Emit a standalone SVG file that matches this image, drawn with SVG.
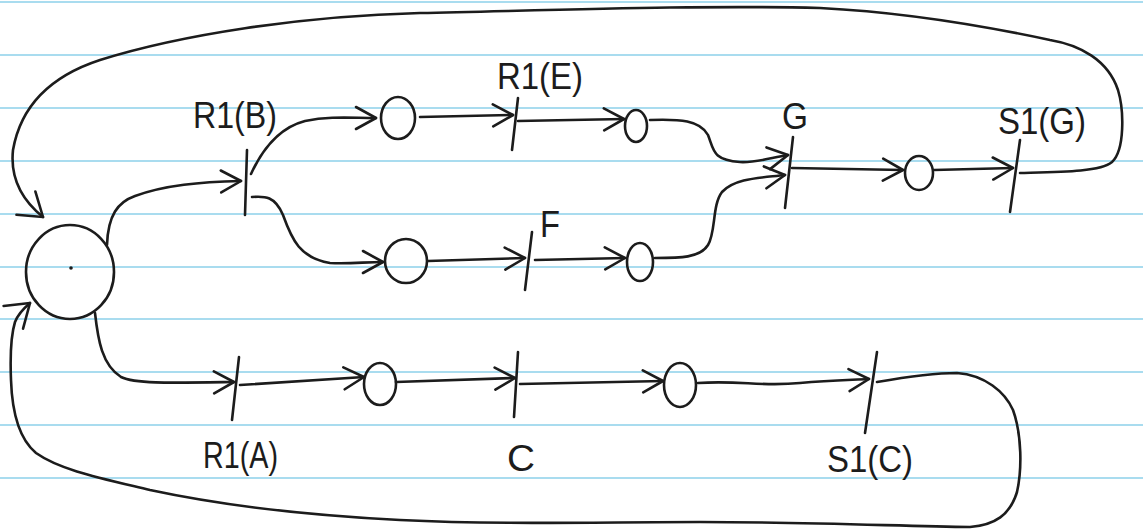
<svg xmlns="http://www.w3.org/2000/svg" width="1143" height="529" viewBox="0 0 1143 529">
<defs>
<style>
.ruled{stroke:#a9dcef;stroke-width:2}
.conn{fill:none;stroke:#1c1c1c;stroke-width:2.6;stroke-linecap:round;stroke-linejoin:round}
.place{fill:none;stroke:#1c1c1c;stroke-width:2.6}
.trans{stroke:#1c1c1c;stroke-width:2.6;stroke-linecap:round}
.lbl{font-family:"Liberation Sans","DejaVu Sans",sans-serif;font-size:37px;fill:#1c1c1c}
</style>
<marker id="arr" markerUnits="userSpaceOnUse" viewBox="0 0 24 26" markerWidth="24" markerHeight="26" refX="22" refY="13" orient="auto">
<path d="M2,2 L22,13 L2,24" fill="none" stroke="#1c1c1c" stroke-width="2.6" stroke-linecap="round" stroke-linejoin="round"/>
</marker>
<marker id="arrL" markerUnits="userSpaceOnUse" viewBox="0 0 26 34" markerWidth="26" markerHeight="34" refX="24" refY="17" orient="auto">
<path d="M2,2 L24,17 L2,32" fill="none" stroke="#1c1c1c" stroke-width="2.6" stroke-linecap="round" stroke-linejoin="round"/>
</marker>
</defs>
<rect x="0" y="0" width="1143" height="529" fill="#ffffff"/>
<g id="paper">
<line class="ruled" x1="0" y1="2" x2="1143" y2="2"/>
<line class="ruled" x1="0" y1="55" x2="1143" y2="55"/>
<line class="ruled" x1="0" y1="108" x2="1143" y2="108"/>
<line class="ruled" x1="0" y1="161" x2="1143" y2="161"/>
<line class="ruled" x1="0" y1="214" x2="1143" y2="214"/>
<line class="ruled" x1="0" y1="267" x2="1143" y2="267"/>
<line class="ruled" x1="0" y1="319" x2="1143" y2="319"/>
<line class="ruled" x1="0" y1="372" x2="1143" y2="372"/>
<line class="ruled" x1="0" y1="425" x2="1143" y2="425"/>
<line class="ruled" x1="0" y1="478" x2="1143" y2="478"/>
</g>
<g id="connectors">
<path class="conn" marker-end="url(#arr)" d="M107,245 C108,215 118,202 135,196 C165,185 200,182 241,181"/>
<path class="conn" marker-end="url(#arr)" d="M251,174 C262,150 278,128 305,121 C330,116 350,118 376,118"/>
<path class="conn" marker-end="url(#arr)" d="M420,117 L513,115"/>
<path class="conn" marker-end="url(#arr)" d="M518,121 L624,119"/>
<path class="conn" marker-end="url(#arr)" d="M650,120 C680,119 700,120 708,135 C714,150 712,160 740,162 C755,163 770,158 788,155"/>
<path class="conn" marker-end="url(#arr)" d="M252,197 C265,196 275,196 283,215 C292,240 300,258 330,263 C350,264 365,262 383,262"/>
<path class="conn" marker-end="url(#arr)" d="M428,261 L525,258"/>
<path class="conn" marker-end="url(#arr)" d="M535,260 L625,258"/>
<path class="conn" marker-end="url(#arr)" d="M655,258 C680,258 700,258 708,245 C716,232 712,205 722,192 C735,178 760,178 785,175"/>
<path class="conn" marker-end="url(#arr)" d="M792,168 L903,170"/>
<path class="conn" marker-end="url(#arr)" d="M934,170 L1013,168"/>
<path class="conn" marker-end="url(#arrL)" d="M1020,173 C1060,172 1100,172 1112,162 C1125,150 1124,110 1118,90 C1108,60 1080,45 1050,40 C980,25 900,12 820,8 C700,5 560,10 420,13 C300,16 180,35 100,60 C45,78 20,110 13,150 C10,178 22,200 43,217"/>
<path class="conn" marker-end="url(#arr)" d="M95,313 C98,340 102,365 121,377 C135,384 170,383 234,382"/>
<path class="conn" marker-end="url(#arr)" d="M240,385 L364,377"/>
<path class="conn" marker-end="url(#arr)" d="M396,382 L515,378"/>
<path class="conn" marker-end="url(#arr)" d="M520,384 L663,381"/>
<path class="conn" marker-end="url(#arr)" d="M698,383 C740,380 760,387 800,383 C830,380 850,380 869,379"/>
<path class="conn" marker-end="url(#arrL)" d="M877,382 C900,378 930,373 957,373 C985,375 1005,392 1013,410 C1022,435 1022,470 1017,492 C1010,515 995,525 970,527 C900,526 800,522 700,522 C600,522 500,525 400,520 C300,515 220,505 150,490 C100,478 60,470 36,453 C18,438 12,410 11,380 C10,355 11,335 15,322 C18,314 23,309 30,303"/>
</g>
<g id="p0"><ellipse class="place" cx="70" cy="272" rx="44" ry="47"/><circle cx="71" cy="268" r="1.8" fill="#1c1c1c"/></g>
<g id="t_r1b"><line class="trans" x1="247" y1="150" x2="245" y2="215"/><text class="lbl" x="193" y="128" textLength="84" lengthAdjust="spacingAndGlyphs">R1(B)</text></g>
<g id="p1"><ellipse class="place" cx="398" cy="118" rx="17" ry="21"/></g>
<g id="t_r1e"><line class="trans" x1="518" y1="98" x2="512" y2="150"/><text class="lbl" x="497" y="89" textLength="86" lengthAdjust="spacingAndGlyphs">R1(E)</text></g>
<g id="p2"><ellipse class="place" cx="636" cy="126" rx="11" ry="16"/></g>
<g id="p3"><ellipse class="place" cx="406" cy="261" rx="21" ry="22"/></g>
<g id="t_f"><line class="trans" x1="532" y1="232" x2="525" y2="290"/><text class="lbl" x="540" y="237" textLength="20" lengthAdjust="spacingAndGlyphs">F</text></g>
<g id="p4"><ellipse class="place" cx="640" cy="262" rx="13" ry="19"/></g>
<g id="t_g"><line class="trans" x1="793" y1="137" x2="785" y2="208"/><text class="lbl" x="782" y="129" textLength="26" lengthAdjust="spacingAndGlyphs">G</text></g>
<g id="p5"><ellipse class="place" cx="919" cy="173" rx="14" ry="17"/></g>
<g id="t_s1g"><line class="trans" x1="1020" y1="140" x2="1010" y2="212"/><text class="lbl" x="998" y="134" textLength="88" lengthAdjust="spacingAndGlyphs">S1(G)</text></g>
<g id="t_r1a"><line class="trans" x1="239" y1="357" x2="232" y2="420"/><text class="lbl" x="203" y="468" textLength="75" lengthAdjust="spacingAndGlyphs">R1(A)</text></g>
<g id="pa"><ellipse class="place" cx="380" cy="384" rx="16" ry="21"/></g>
<g id="t_c"><line class="trans" x1="518" y1="352" x2="514" y2="417"/><text class="lbl" x="507" y="471" textLength="28" lengthAdjust="spacingAndGlyphs">C</text></g>
<g id="pc"><ellipse class="place" cx="680" cy="385" rx="16" ry="22"/></g>
<g id="t_s1c"><line class="trans" x1="877" y1="352" x2="865" y2="433"/><text class="lbl" x="827" y="472" textLength="86" lengthAdjust="spacingAndGlyphs">S1(C)</text></g>
</svg>
